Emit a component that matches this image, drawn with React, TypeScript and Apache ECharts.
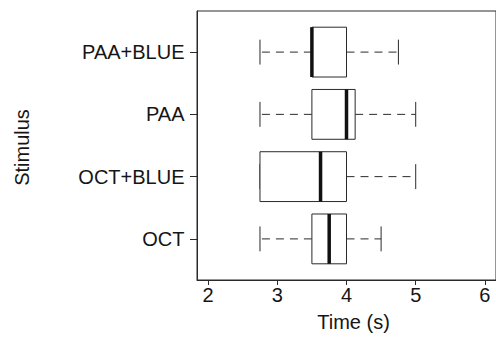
import React, { useEffect, useRef } from "react";
import * as echarts from "echarts";

const categories = ["OCT", "OCT+BLUE", "PAA", "PAA+BLUE"];
const lowWhisker = [2.75, 2.75, 2.75, 2.75];
const q1 = [3.5, 2.75, 3.5, 3.5];
const median = [3.75, 3.625, 4.0, 3.5];
const q3 = [4.0, 4.0, 4.125, 4.0];
const highWhisker = [4.5, 5.0, 5.0, 4.75];
const xTicks = [2, 3, 4, 5, 6];
const yPositions = [1, 2, 3, 4];

const FONT = "'Liberation Sans', Arial, Helvetica, sans-serif";
const TEXT = "#151515";
const LINE = "#2a2a2a";
const FS = 20;

export default function App() {
  const ref = useRef<HTMLDivElement>(null);
  useEffect(() => {
    if (!ref.current) return;
    const chart = echarts.init(ref.current, null, { renderer: "svg" });
    const data = categories.map((_, i) => [
      yPositions[i],
      lowWhisker[i],
      q1[i],
      median[i],
      q3[i],
      highWhisker[i],
    ]);
    const option: any = {
      animation: false,
      backgroundColor: "#ffffff",
      textStyle: { fontFamily: FONT },
      grid: {
        left: 197,
        top: 11,
        width: 302.4,
        height: 271,
        show: true,
        borderColor: LINE,
        borderWidth: 1,
        containLabel: false,
      },
      xAxis: {
        type: "value",
        min: 1.84,
        max: 6.16,
        name: "Time (s)",
        nameLocation: "middle",
        nameGap: 32,
        nameTextStyle: {
          fontFamily: FONT,
          fontSize: FS,
          color: TEXT,
          padding: [0, 0, 0, 14],
        },
        axisLine: { show: true, lineStyle: { color: LINE, width: 1 } },
        axisTick: {
          show: true,
          length: 5,
          customValues: xTicks,
          lineStyle: { color: LINE, width: 1 },
        },
        axisLabel: {
          customValues: xTicks,
          fontFamily: FONT,
          fontSize: FS,
          color: TEXT,
          margin: 5,
        },
        splitLine: { show: false },
      },
      yAxis: {
        type: "value",
        min: 0.34,
        max: 4.66,
        name: "Stimulus",
        nameLocation: "middle",
        nameRotate: 90,
        nameGap: 165,
        nameTextStyle: {
          fontFamily: FONT,
          fontSize: FS,
          color: TEXT,
          padding: [0, 4, 0, 0],
        },
        axisLine: { show: true, lineStyle: { color: LINE, width: 1 } },
        axisTick: {
          show: true,
          length: 7,
          customValues: yPositions,
          lineStyle: { color: LINE, width: 1 },
        },
        axisLabel: {
          customValues: yPositions,
          formatter: (v: number) => categories[Math.round(v) - 1] ?? "",
          fontFamily: FONT,
          fontSize: FS,
          color: TEXT,
          margin: 12.5,
        },
        splitLine: { show: false },
      },
      series: [
        {
          type: "custom",
          data,
          encode: { x: [1, 2, 3, 4, 5], y: 0 },
          clip: false,
          renderItem: (params: any, api: any) => {
            const y = api.value(0);
            const lo = api.value(1);
            const a = api.value(2);
            const med = api.value(3);
            const b = api.value(4);
            const hi = api.value(5);
            const pLo = api.coord([lo, y]);
            const pA = api.coord([a, y]);
            const pMed = api.coord([med, y]);
            const pB = api.coord([b, y]);
            const pHi = api.coord([hi, y]);
            const halfBox = api.size([0, 0.4])[1];
            const halfCap = api.size([0, 0.2])[1];
            const cy = pA[1];
            const children: any[] = [];
            const dash = { stroke: LINE, lineWidth: 1, lineDash: [8, 6] };
            if (pLo[0] < pA[0] - 0.5) {
              children.push({
                type: "line",
                shape: { x1: pA[0], y1: cy, x2: pLo[0], y2: cy },
                style: dash,
              });
            }
            if (pHi[0] > pB[0] + 0.5) {
              children.push({
                type: "line",
                shape: { x1: pB[0], y1: cy, x2: pHi[0], y2: cy },
                style: dash,
              });
            }
            children.push({
              type: "line",
              shape: { x1: pLo[0], y1: cy - halfCap, x2: pLo[0], y2: cy + halfCap },
              style: { stroke: LINE, lineWidth: 1 },
            });
            children.push({
              type: "line",
              shape: { x1: pHi[0], y1: cy - halfCap, x2: pHi[0], y2: cy + halfCap },
              style: { stroke: LINE, lineWidth: 1 },
            });
            children.push({
              type: "rect",
              shape: { x: pA[0], y: cy - halfBox, width: pB[0] - pA[0], height: 2 * halfBox },
              style: { fill: "#ffffff", stroke: LINE, lineWidth: 1 },
            });
            children.push({
              type: "line",
              shape: { x1: pMed[0], y1: cy - halfBox, x2: pMed[0], y2: cy + halfBox },
              style: { stroke: "#111111", lineWidth: 3.5 },
            });
            return { type: "group", children };
          },
        },
      ],
    };
    chart.setOption(option);
    return () => chart.dispose();
  }, []);
  return (
    <div
      ref={ref}
      style={{ position: "absolute", left: 0, top: 0, width: 496, height: 337 }}
    />
  );
}
